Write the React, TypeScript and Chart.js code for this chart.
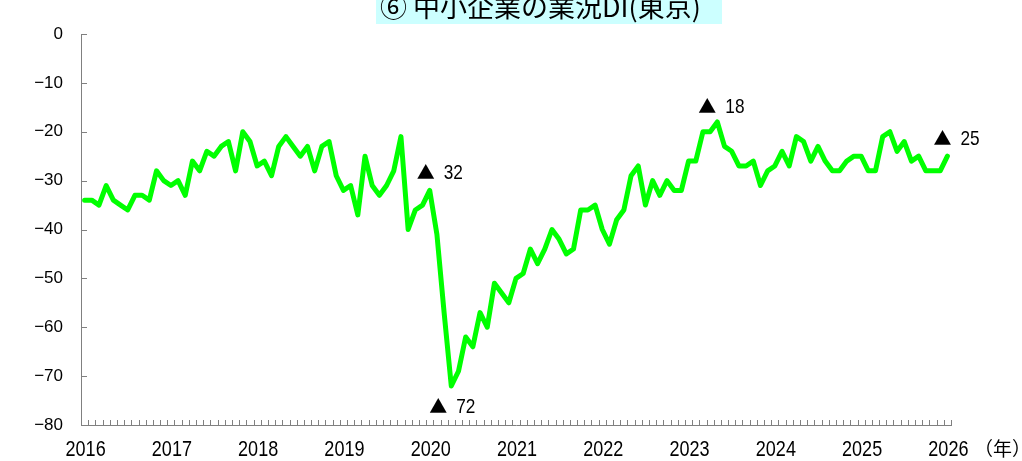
import React, { useEffect, useRef } from 'react';
import { Chart, registerables } from 'chart.js';

Chart.register(...registerables);

// ---- data ----
const startYear = 2016;
const endYear = 2026;
const monthLabels: string[] = [];
for (let y = startYear; y < endYear; y++) {
  for (let m = 1; m <= 12; m++) monthLabels.push(`${y}-${String(m).padStart(2, '0')}`);
}
monthLabels.push(`${endYear}-01`);

const diValues = [
  -34, -34, -35, -31, -34, -35, -36, -33, -33, -34, -28, -30, // 2016
  -31, -30, -33, -26, -28, -24, -25, -23, -22, -28, -20, -22, // 2017
  -27, -26, -29, -23, -21, -23, -25, -23, -28, -23, -22, -29, // 2018
  -32, -31, -37, -25, -31, -33, -31, -28, -21, -40, -36, -35, // 2019
  -32, -41, -57, -72, -69, -62, -64, -57, -60, -51, -53, -55, // 2020
  -50, -49, -44, -47, -44, -40, -42, -45, -44, -36, -36, -35, // 2021
  -40, -43, -38, -36, -29, -27, -35, -30, -33, -30, -32, -32, // 2022
  -26, -26, -20, -20, -18, -23, -24, -27, -27, -26, -31, -28, // 2023
  -27, -24, -27, -21, -22, -26, -23, -26, -28, -28, -26, -25, // 2024
  -25, -28, -28, -21, -20, -24, -22, -26, -25, -28, -28, -28, // 2025
  -25, // 2026
];

const yMin = -80;
const yMax = 0;
const yStep = 10;

const titleText = '⑥ 中小企業の業況DI(東京)';
const unitText = '（年）';

const annotationIndices = [48, 51, 88, 120];
const annotationTexts = ['32', '72', '18', '25'];
// pixel offsets of the label (triangle left, label middle) from its data point
const annotationDx = [-13, -22, -19, -14];
const annotationDy = [-18, 20, -16, -18];

// ---- styles ----
const AXIS_COLOR = '#808080';
const LINE_COLOR = '#00ff00';
const SANS = '"Liberation Sans", Arial, sans-serif';
const CJK = '"Noto Sans CJK JP", "Noto Sans", sans-serif';
const NARROW_SCALE = 0.82;

function drawNarrow(ctx: CanvasRenderingContext2D, text: string, x: number, y: number, size: number, align: CanvasTextAlign) {
  ctx.save();
  ctx.translate(x, y);
  ctx.scale(NARROW_SCALE, 1);
  ctx.font = `${size}px ${SANS}`;
  ctx.textAlign = align;
  ctx.textBaseline = 'middle';
  ctx.fillText(text, 0, 0);
  ctx.restore();
}

const decorPlugin = {
  id: 'decor',
  afterDraw(chart: any) {
    const { ctx, chartArea } = chart;
    const x = chart.scales.x;
    const y = chart.scales.y;
    ctx.save();
    // inward tick marks
    ctx.strokeStyle = AXIS_COLOR;
    ctx.lineWidth = 1;
    ctx.beginPath();
    y.ticks.forEach((t: any) => {
      const py = Math.round(y.getPixelForValue(t.value)) + 0.5;
      ctx.moveTo(chartArea.left, py);
      ctx.lineTo(chartArea.left + 6, py);
    });
    for (let i = 0; i <= monthLabels.length; i++) {
      const px = Math.round(x.getPixelForValue(i - 0.5)) + 0.5;
      ctx.moveTo(px, chartArea.bottom);
      ctx.lineTo(px, chartArea.bottom - 5);
    }
    ctx.stroke();

    // year labels under January of each year
    ctx.fillStyle = '#000';
    monthLabels.forEach((lab, i) => {
      if (lab.endsWith('-01')) {
        drawNarrow(ctx, lab.slice(0, 4), x.getPixelForValue(i) + 1, chartArea.bottom + 25, 22, 'center');
      }
    });

    // annotations
    annotationIndices.forEach((idx, k) => {
      const px = x.getPixelForValue(idx) + annotationDx[k];
      const py = y.getPixelForValue(diValues[idx]) + annotationDy[k];
      ctx.font = `18px ${CJK}`;
      ctx.textAlign = 'left';
      ctx.textBaseline = 'middle';
      ctx.fillText('▲', px, py);
      const tw = ctx.measureText('▲').width;
      drawNarrow(ctx, annotationTexts[k], px + tw + 9, py + 1, 21, 'left');
    });

    // unit label
    ctx.font = `19px ${CJK}`;
    ctx.textAlign = 'left';
    ctx.textBaseline = 'middle';
    ctx.fillText(unitText, chartArea.right + 23, chartArea.bottom + 24);

    // title
    ctx.fillStyle = '#ccffff';
    ctx.fillRect(376, 0, 346, 24);
    ctx.fillStyle = '#000';
    ctx.font = `27px ${CJK}`;
    ctx.textAlign = 'left';
    ctx.textBaseline = 'alphabetic';
    ctx.fillText(titleText, 380, 17);
    ctx.restore();
  },
};

export default function App() {
  const canvasRef = useRef<HTMLCanvasElement | null>(null);

  useEffect(() => {
    document.body.style.margin = '0';
    const canvas = canvasRef.current;
    if (!canvas) return;
    const chart = new Chart(canvas, {
      type: 'line',
      data: {
        labels: monthLabels,
        datasets: [
          {
            data: diValues,
            borderColor: LINE_COLOR,
            backgroundColor: LINE_COLOR,
            borderWidth: 5,
            pointRadius: 0,
            tension: 0,
            borderJoinStyle: 'round',
            borderCapStyle: 'round',
            fill: false,
          },
        ],
      },
      options: {
        responsive: false,
        animation: false,
        devicePixelRatio: 1,
        layout: { padding: { left: 0, right: 71, top: 34, bottom: 0 } },
        plugins: {
          legend: { display: false },
          tooltip: { enabled: false },
          title: { display: false },
        },
        scales: {
          x: {
            type: 'category',
            offset: true,
            grid: { display: true, drawOnChartArea: false, drawTicks: false },
            border: { display: true, color: AXIS_COLOR, width: 1 },
            ticks: { display: false, autoSkip: false, maxRotation: 0 },
            afterFit: (scale: any) => {
              scale.height = 36;
            },
          },
          y: {
            min: yMin,
            max: yMax,
            grid: { display: true, drawOnChartArea: false, drawTicks: false },
            border: { display: true, color: AXIS_COLOR, width: 1 },
            ticks: {
              stepSize: yStep,
              padding: 18,
              color: '#000',
              font: { family: SANS, size: 17 },
              callback: (v: any) => String(v).replace('-', '\u2212'),
            },
            afterFit: (scale: any) => {
              scale.width = 81;
            },
          },
        },
      },
      plugins: [decorPlugin],
    } as any);
    return () => chart.destroy();
  }, []);

  return (
    <div style={{ position: 'fixed', left: 0, top: 0, width: 1022, height: 461, background: '#fff' }}>
      <canvas ref={canvasRef} width={1022} height={461} style={{ width: 1022, height: 461, display: 'block' }} />
    </div>
  );
}
